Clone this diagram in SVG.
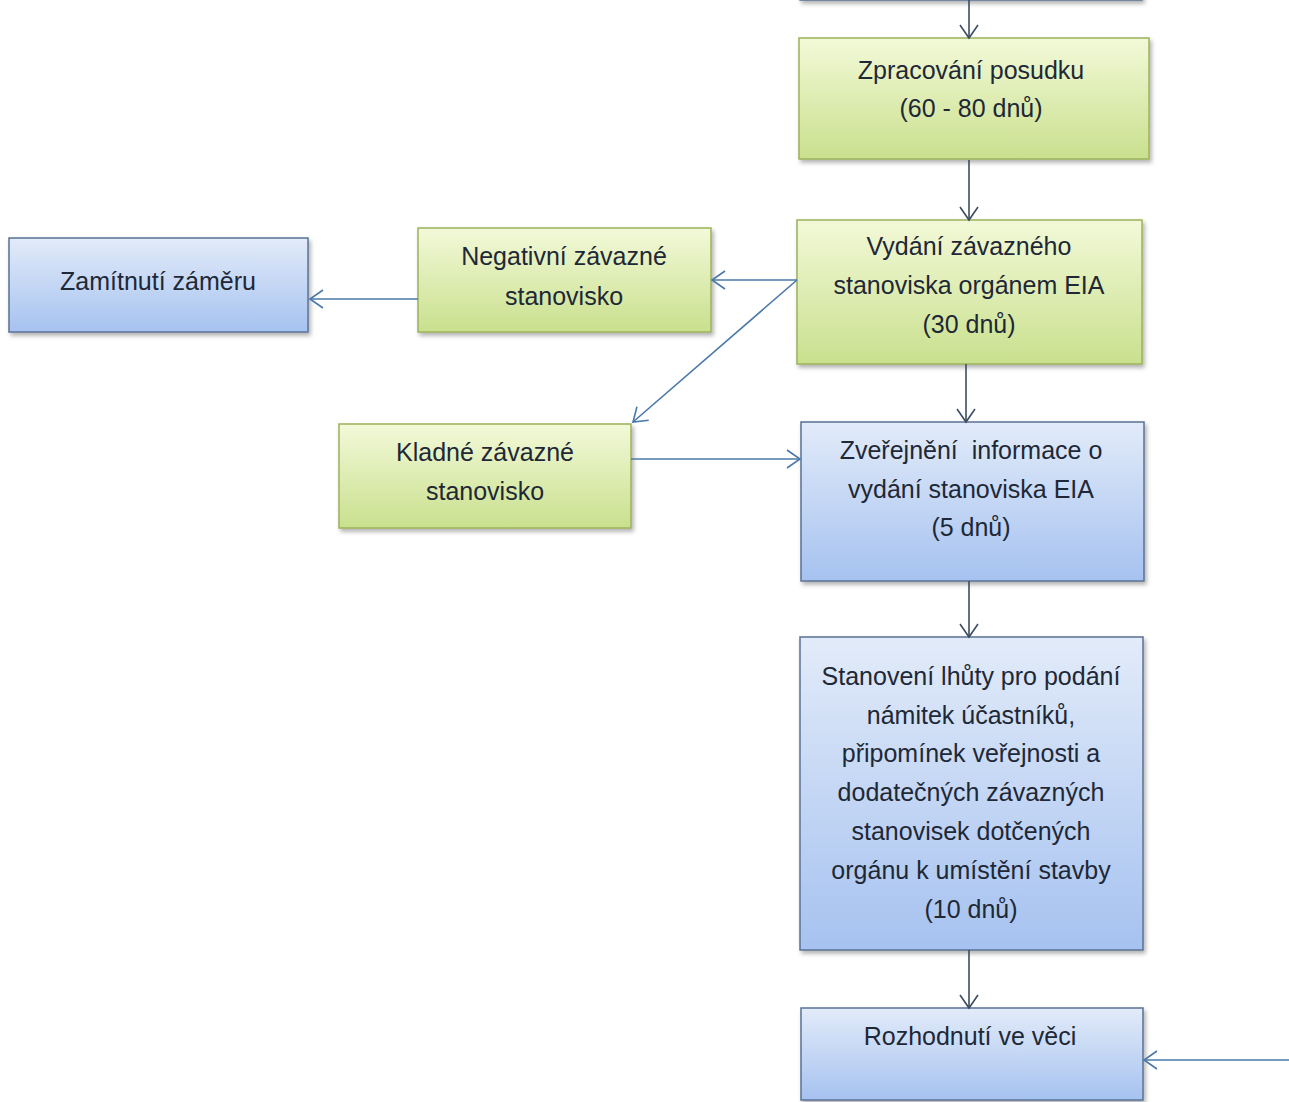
<svg xmlns="http://www.w3.org/2000/svg" width="1289" height="1102" viewBox="0 0 1289 1102">
<style>
text{font-family:"Liberation Sans",Arial,sans-serif;font-size:25px;fill:#1e2836;text-anchor:middle;white-space:pre}
.g{fill:url(#gg);stroke:#9bb35a;stroke-width:1.5;filter:url(#sh)}
.b{fill:url(#bg);stroke:#5a7195;stroke-width:1.5;filter:url(#sh)}
.c{fill:none;stroke:#4a78aa;stroke-width:1.6;marker-end:url(#ah)}
.d{fill:none;stroke:#3d4d60;stroke-width:1.6;marker-end:url(#ahd)}
</style>
<defs>
<linearGradient id="gg" x1="0" y1="0" x2="0" y2="1"><stop offset="0" stop-color="#f3f9d8"/><stop offset="1" stop-color="#c9e08e"/></linearGradient>
<linearGradient id="bg" x1="0" y1="0" x2="0" y2="1"><stop offset="0" stop-color="#e2ebf9"/><stop offset="1" stop-color="#a6c2f0"/></linearGradient>
<filter id="sh" x="-5%" y="-5%" width="115%" height="120%"><feDropShadow dx="2" dy="3" stdDeviation="2" flood-color="#000" flood-opacity="0.3"/></filter>
<marker id="ah" markerUnits="userSpaceOnUse" markerWidth="16" markerHeight="22" refX="14" refY="10" orient="auto" viewBox="0 0 16 22"><path d="M1,1 L14,10 L1,19" fill="none" stroke="#4a78aa" stroke-width="1.6"/></marker>
<marker id="ahd" markerUnits="userSpaceOnUse" markerWidth="16" markerHeight="22" refX="14" refY="10" orient="auto" viewBox="0 0 16 22"><path d="M1,1 L14,10 L1,19" fill="none" stroke="#3d4d60" stroke-width="1.6"/></marker>
</defs>
<rect width="1289" height="1102" fill="#fff"/>
<g id="top"><rect class="b" x="800" y="-60" width="342" height="60"/></g>
<g id="zpracovani"><rect class="g" x="799" y="38" width="350" height="121"/>
<text x="971" y="79">Zpracování posudku</text><text x="971" y="117">(60 - 80 dnů)</text></g>
<g id="vydani"><rect class="g" x="797" y="220" width="345" height="144"/>
<text x="969" y="255">Vydání závazného</text><text x="969" y="294">stanoviska orgánem EIA</text><text x="969" y="333">(30 dnů)</text></g>
<g id="negativni"><rect class="g" x="418" y="228" width="293" height="104"/>
<text x="564" y="265">Negativní závazné</text><text x="564" y="305">stanovisko</text></g>
<g id="zamitnuti"><rect class="b" x="9" y="238" width="299" height="94"/>
<text x="158" y="290">Zamítnutí záměru</text></g>
<g id="kladne"><rect class="g" x="339" y="424" width="292" height="104"/>
<text x="485" y="461">Kladné závazné</text><text x="485" y="500">stanovisko</text></g>
<g id="zverejneni"><rect class="b" x="801" y="422" width="343" height="159"/>
<text x="971" y="459">Zveřejnění  informace o</text><text x="971" y="498">vydání stanoviska EIA</text><text x="971" y="536">(5 dnů)</text></g>
<g id="stanoveni"><rect class="b" x="800" y="637" width="343" height="313"/>
<text x="971" y="685">Stanovení lhůty pro podání</text>
<text x="971" y="724">námitek účastníků,</text>
<text x="971" y="762">připomínek veřejnosti a</text>
<text x="971" y="801">dodatečných závazných</text>
<text x="971" y="840">stanovisek dotčených</text>
<text x="971" y="879">orgánu k umístění stavby</text>
<text x="971" y="918">(10 dnů)</text></g>
<g id="rozhodnuti"><rect class="b" x="801" y="1008" width="342" height="92"/>
<text x="970" y="1045">Rozhodnutí ve věci</text></g>
<g id="connectors">
<path class="d" d="M969,0 V38"/>
<path class="d" d="M969,160 V220"/>
<path class="c" d="M797,280 H712"/>
<path class="c" d="M797,280 L633,422"/>
<path class="c" d="M418,299 H310"/>
<path class="c" d="M631,459 H800"/>
<path class="d" d="M966,364 V422"/>
<path class="d" d="M969,581 V637"/>
<path class="d" d="M969,950 V1008"/>
<path class="c" d="M1289,1060 H1144"/>
</g>
</svg>
